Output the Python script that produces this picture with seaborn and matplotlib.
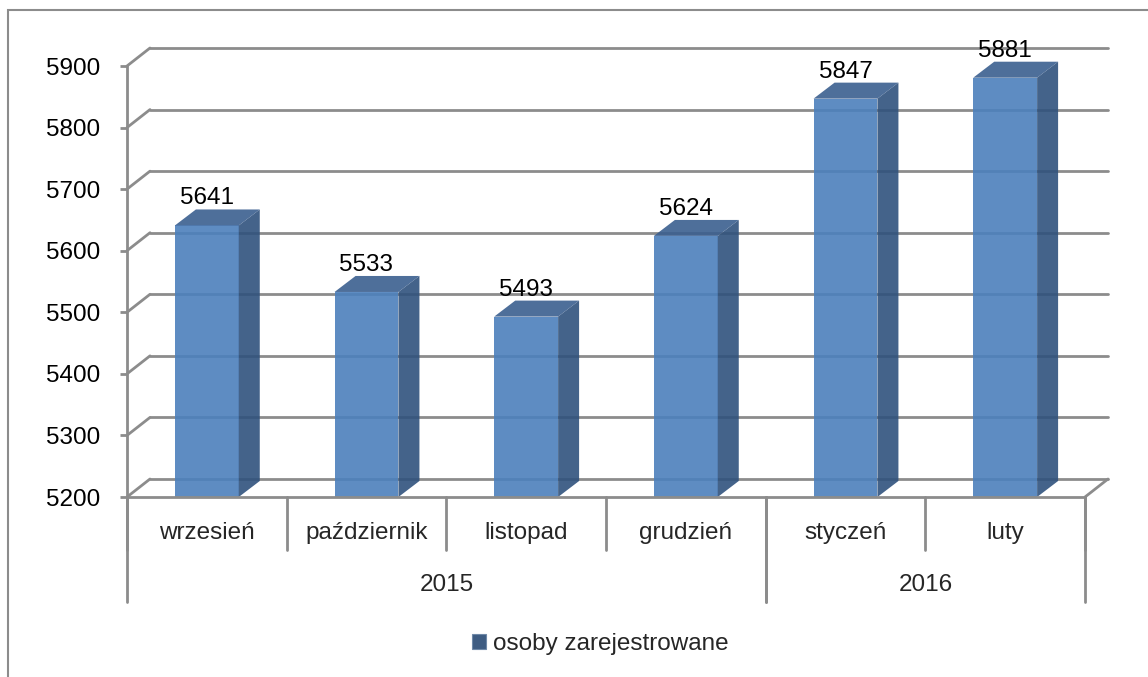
import pandas as pd
import matplotlib
matplotlib.use("Agg")
import matplotlib.pyplot as plt
from matplotlib.patches import Polygon, Patch, Rectangle
import seaborn as sns

# dane
months = ["wrzesień", "październik", "listopad", "grudzień", "styczeń", "luty"]
years = ["2015", "2015", "2015", "2015", "2016", "2016"]
values = [5641, 5533, 5493, 5624, 5847, 5881]
series_name = "osoby zarejestrowane"
y_ticks = [5200, 5300, 5400, 5500, 5600, 5700, 5800, 5900]

df = pd.DataFrame({"miesiac": months, "rok": years, "osoby": values})

sns.set_theme(style="white")
plt.rcParams["font.family"] = ["Liberation Sans", "DejaVu Sans"]

# kolory
front_col = "#4c80bc"
side_col = "#30527d"
top_col = "#3b5f8f"
legend_col = "#3e5c82"
grid_col = "#8c8c8c"
FS = 17.5

W, H = 1148, 677
fig = plt.figure(figsize=(W / 100, H / 100), dpi=100)
# przednia plaszczyzna wykresu (piksele)
x0, x1, yb, yt = 127, 1085, 497, 66
ax = fig.add_axes([x0 / W, 1 - yb / H, (x1 - x0) / W, (yb - yt) / H])

sns.barplot(data=df, x="miesiac", y="osoby", color=front_col, width=0.4,
            saturation=1, ax=ax, zorder=3, linewidth=0, edgecolor="none")
ymin, ymax = y_ticks[0], y_ticks[-1]
ax.set_xlim(-0.5, len(months) - 0.5)
ax.set_ylim(ymin, ymax)

# przesuniecie "glebokosci" 3D w jednostkach danych
px_cat = (x1 - x0) / len(months)
px_val = (yb - yt) / (ymax - ymin)
wdx, wdy = 23 / px_cat, 18 / px_val   # sciany
bdx, bdy = 21 / px_cat, 16 / px_val   # slupki

# tylna sciana: linie siatki + skosy
xl, xr = -0.5, len(months) - 0.5
for t in y_ticks:
    ax.plot([xl + wdx, xr + wdx], [t + wdy, t + wdy], color=grid_col, lw=2,
            zorder=1, clip_on=False)
    ax.plot([xl, xl + wdx], [t, t + wdy], color=grid_col, lw=2, zorder=1, clip_on=False)
# prawa krawedz podlogi
ax.plot([xr, xr + wdx], [ymin, ymin + wdy], color=grid_col, lw=2, zorder=1, clip_on=False)

# boki i gory slupkow
for bar in ax.patches:
    bar.set_alpha(0.9)
    bar.set_linewidth(0)
    bx = bar.get_x()
    bw = bar.get_width()
    top = bar.get_height()
    side = Polygon([(bx + bw, ymin), (bx + bw + bdx, ymin + bdy),
                    (bx + bw + bdx, top + bdy), (bx + bw, top)],
                   closed=True, facecolor=side_col, edgecolor="none",
                   alpha=0.9, zorder=3, clip_on=False)
    cap = Polygon([(bx, top), (bx + bdx, top + bdy), (bx + bw + bdx, top + bdy),
                   (bx + bw, top)], closed=True, facecolor=top_col,
                  edgecolor="none", alpha=0.9, zorder=3, clip_on=False)
    ax.add_patch(side)
    ax.add_patch(cap)
    ax.annotate(f"{int(round(top))}", (bx + bw / 2, top), xytext=(0, 19.5),
                textcoords="offset points", ha="center", va="center",
                fontsize=FS, color="black", annotation_clip=False, zorder=5)

# osie
for s in ["top", "right"]:
    ax.spines[s].set_visible(False)
for s in ["left", "bottom"]:
    ax.spines[s].set_color(grid_col)
    ax.spines[s].set_linewidth(2)
    ax.spines[s].set_zorder(4)
ax.set_yticks(y_ticks)
ax.tick_params(axis="y", left=True, length=5, width=2, color=grid_col, pad=14,
               labelsize=FS, labelcolor="black")
ax.set_xticks([])
ax.set_xlabel("")
ax.set_ylabel("")

# dwupoziomowa os kategorii
ah = yb - yt
xt = ax.get_xaxis_transform()
for i, m in enumerate(months):
    ax.text(i, -36 / ah, m, transform=xt, ha="center", va="center", fontsize=FS)
for i in range(len(months) + 1):
    ax.plot([i - 0.5, i - 0.5], [0, -53 / ah], transform=xt, color=grid_col,
            lw=2, clip_on=False)
groups = []
for i, y in enumerate(years):
    if not groups or groups[-1][0] != y:
        groups.append([y, i, i])
    else:
        groups[-1][2] = i
for y, a, b in groups:
    ax.text((a + b) / 2, -88 / ah, y, transform=xt, ha="center", va="center", fontsize=FS)
    for edge in (a - 0.5, b + 0.5):
        ax.plot([edge, edge], [0, -105 / ah], transform=xt, color=grid_col,
                lw=2, clip_on=False)

# legenda
fig.legend(handles=[Patch(facecolor=legend_col, edgecolor="#6f89a8", lw=0.8)],
           labels=[series_name], loc="center", bbox_to_anchor=(600 / W, 1 - 644 / H),
           frameon=False, fontsize=FS, handlelength=0.6, handleheight=0.6,
           handletextpad=0.25)

# ramka obszaru wykresu
fig.patches.append(Rectangle((8 / W, -0.1), 1.2, 1 - 10 / H + 0.1,
                             transform=fig.transFigure, fill=False,
                             edgecolor=grid_col, lw=1.5))

fig.savefig("out.png", dpi=100)
